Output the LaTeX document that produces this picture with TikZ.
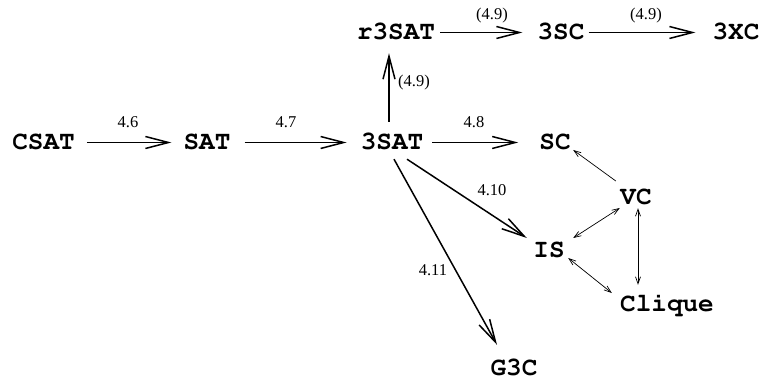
\documentclass[tikz,border=0pt]{standalone}
\usepackage[T1]{fontenc}
\usepackage{fontspec}
\setmainfont{Liberation Serif}
\usetikzlibrary{arrows.meta}
\newcommand{\courb}{\fontencoding{T1}\fontfamily{pcr}\fontseries{b}\fontshape{n}\fontsize{26}{26}\selectfont}
\tikzset{
  prob/.style={font=\courb, inner sep=0pt, text height=15pt, text depth=0pt, anchor=base},
  lab/.style={font=\fontsize{16.5}{16.5}\selectfont, inner sep=0pt},
  big/.style={line width=1.5pt, -{Straight Barb[length=23pt,width=12pt]}},
  small/.style={line width=0.7pt, -{Straight Barb[length=7pt,width=5pt]}},
  smallboth/.style={line width=0.7pt, {Straight Barb[length=7pt,width=5pt]}-{Straight Barb[length=7pt,width=5pt]}}
}
\begin{document}
\begin{tikzpicture}[x=1pt,y=-1pt]
\useasboundingbox (0,0) rectangle (760,379);
% nodes (anchor = base, y = baseline)
\node[prob] (csat) at (43.5,150) {CSAT};
\node[prob] (sat) at (207,150) {SAT};
\node[prob] (3sat) at (392,150) {3SAT};
\node[prob] (sc) at (555,150) {SC};
\node[prob] (r3sat) at (396,40) {r3SAT};
\node[prob] (3sc) at (561,40) {3SC};
\node[prob] (3xc) at (736,40) {3XC};
\node[prob] (vc) at (636,205) {VC};
\node[prob] (is) at (549,258) {IS};
\node[prob] (clique) at (667,311) {Clique};
\node[prob] (g3c) at (514,375) {G3C};
% big arrows
\draw[big] ([xshift=12pt]csat.east) -- ([xshift=-12pt]sat.west);
\draw[big] ([xshift=14pt]sat.east) -- ([xshift=-14pt]3sat.west);
\draw[big] ([xshift=9pt]3sat.east) -- ([xshift=-21pt]sc.west);
\draw[big] ([shift={(-3,-13)}]3sat.north) -- ([shift={(-7,13)}]r3sat.south);
\draw[big] ([xshift=5pt]r3sat.east) -- ([xshift=-15pt]3sc.west);
\draw[big] ([xshift=4pt]3sc.east) -- ([xshift=-17pt]3xc.west);
\draw[big] ([shift={(15,9)}]3sat.south) -- ([shift={(-6.4,-12.5)}]is.west);
\draw[big] ([shift={(2,9)}]3sat.south) -- ([shift={(-17,-15)}]g3c.north);
% thin arrows
\draw[small] ([shift={(-4.4,-16.5)}]vc.west) -- ([shift={(2.4,7.5)}]sc.east);
\draw[smallboth] ([shift={(8.4,-12.5)}]is.east) -- ([shift={(-0.4,10.5)}]vc.west);
\draw[smallboth] ([shift={(3.4,7.5)}]is.east) -- ([shift={(-8.2,-10.5)}]clique.west);
\draw[smallboth] ([shift={(2,3)}]vc.south) -- ([shift={(-29,-11)}]clique.north);
% labels
\node[lab] (l46) at (128,122) {4.6};
\node[lab] (l47) at (286,122) {4.7};
\node[lab] (l48) at (474,122) {4.8};
\node[lab] (l49a) at (414,83) {(4.9)};
\node[lab] (l49b) at (492,16) {(4.9)};
\node[lab] (l49c) at (646,16) {(4.9)};
\node[lab] (l410) at (492,190) {4.10};
\node[lab] (l411) at (433,270) {4.11};
\end{tikzpicture}
\end{document}
